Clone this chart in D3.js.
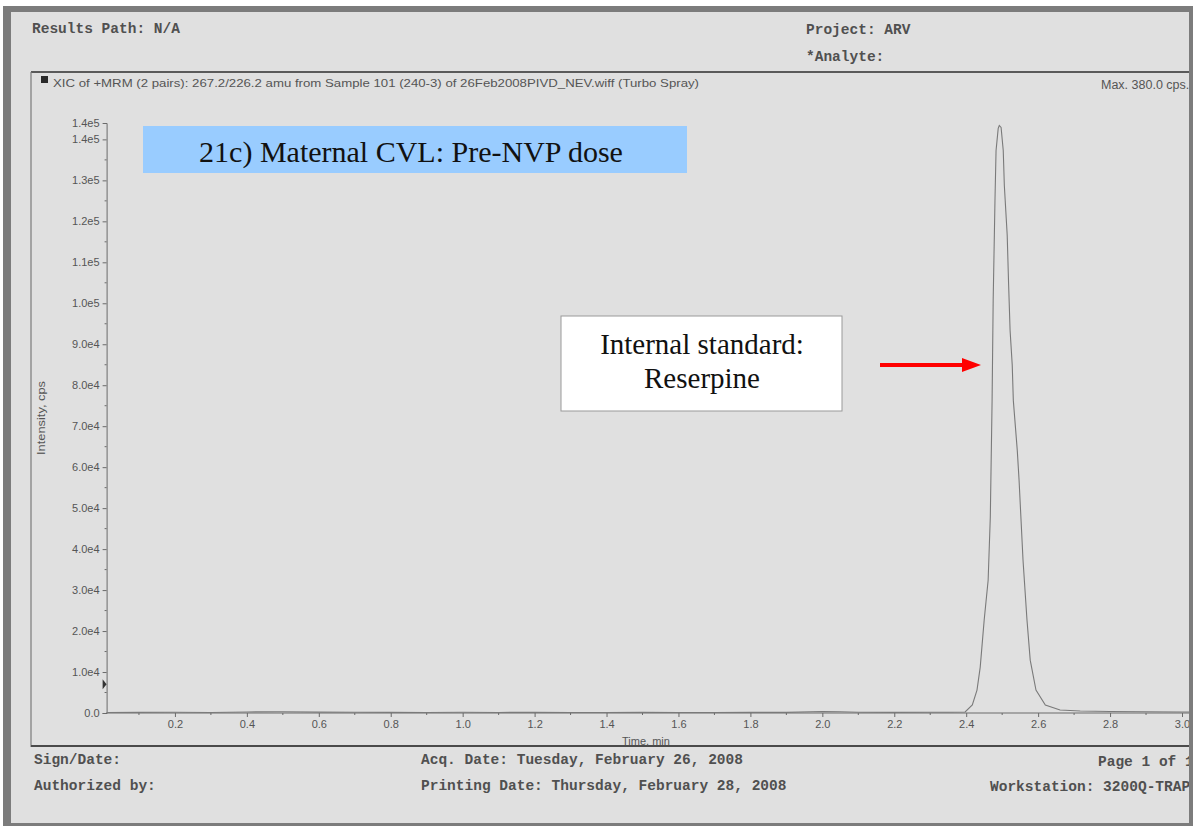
<!DOCTYPE html>
<html>
<head>
<meta charset="utf-8">
<script src="https://cdn.jsdelivr.net/npm/d3@7"></script>
<style>
  html, body { margin: 0; padding: 0; background: #ffffff; }
  svg { display: block; }
</style>
</head>
<body>
<svg id="chart" width="1193" height="826"></svg>
<script>
// XIC trace: retention time (min) and intensity (cps)
const timeMin = [0.01, 0.1, 0.2, 0.3, 0.4, 0.5, 0.6, 0.7, 0.8, 0.9, 1.0, 1.1, 1.2, 1.3, 1.4, 1.5, 1.6, 1.7, 1.8, 1.9,
  2.0, 2.05, 2.1, 2.2, 2.3, 2.35, 2.397, 2.417, 2.43, 2.439, 2.45, 2.461, 2.467, 2.472, 2.475, 2.48, 2.483, 2.489,
  2.492, 2.497, 2.503, 2.506, 2.514, 2.518, 2.522, 2.528, 2.531, 2.542, 2.547, 2.558, 2.569, 2.578, 2.594, 2.62,
  2.661, 2.717, 2.8, 2.9, 3.0, 3.04];
const intensityCps = [120, 150, 200, 140, 260, 310, 220, 180, 150, 130, 170, 140, 150, 130, 120, 150, 140, 130, 160, 150,
  380, 300, 180, 150, 170, 200, 244, 1950, 5600, 11200, 22700, 32400, 47800, 76300, 100700, 125100, 137300, 142700,
  143400, 142900, 137300, 128800, 116600, 104400, 93400, 84900, 76300, 64100, 56800, 37300, 22700, 12900, 5600, 1950,
  730, 490, 350, 300, 250, 240];

// Axis ticks
const yTickValues = [0, 1e4, 2e4, 3e4, 4e4, 5e4, 6e4, 7e4, 8e4, 9e4, 1e5, 1.1e5, 1.2e5, 1.3e5, 1.4e5];
const yTickLabels = ["0.0", "1.0e4", "2.0e4", "3.0e4", "4.0e4", "5.0e4", "6.0e4", "7.0e4", "8.0e4", "9.0e4",
  "1.0e5", "1.1e5", "1.2e5", "1.3e5", "1.4e5"];
const yMax = 1.44e5;
const yMaxLabel = "1.4e5";
const xTickValues = [0.2, 0.4, 0.6, 0.8, 1.0, 1.2, 1.4, 1.6, 1.8, 2.0, 2.2, 2.4, 2.6, 2.8, 3.0];
const xTickLabels = ["0.2", "0.4", "0.6", "0.8", "1.0", "1.2", "1.4", "1.6", "1.8", "2.0", "2.2", "2.4", "2.6", "2.8", "3.0"];

// Report text
const headerLeft = "Results Path: N/A";
const headerProject = "Project: ARV";
const headerAnalyte = "*Analyte:";
const traceTitle = "XIC of +MRM (2 pairs): 267.2/226.2 amu from Sample 101 (240-3) of 26Feb2008PIVD_NEV.wiff (Turbo Spray)";
const maxLabel = "Max. 380.0 cps.";
const panelTitle = "21c) Maternal CVL: Pre-NVP dose";
const annotationLines = ["Internal standard:", "Reserpine"];
const footerLeft = ["Sign/Date:", "Authorized by:"];
const footerMid = ["Acq. Date: Tuesday, February 26, 2008", "Printing Date: Thursday, February 28, 2008"];
const footerPage = "Page 1 of 1";
const footerStation = "Workstation: 3200Q-TRAP";

const svg = d3.select("#chart");
const mono = "'Liberation Mono', 'DejaVu Sans Mono', monospace";
const sans = "'Liberation Sans', Arial, sans-serif";
const serif = "'Liberation Serif', 'Times New Roman', serif";

// Page frame
svg.append("rect").attr("x", 3).attr("y", 6).attr("width", 1190).attr("height", 820).attr("fill", "#7c7c7c");
svg.append("rect").attr("x", 11).attr("y", 12).attr("width", 1178).attr("height", 811).attr("fill", "#e0e0e0");

svg.append("defs").append("clipPath").attr("id", "page")
  .append("rect").attr("x", 11).attr("y", 12).attr("width", 1178).attr("height", 811);

const page = svg.append("g").attr("clip-path", "url(#page)");

// Header
const monoText = (x, y, t) => page.append("text").attr("x", x).attr("y", y)
  .attr("font-family", mono).attr("font-size", 14.5).attr("font-weight", "bold")
  .attr("fill", "#505050").text(t);
monoText(32, 33, headerLeft);
monoText(806, 34, headerProject);
monoText(806, 61, headerAnalyte);

// Chart panel border
page.append("line").attr("x1", 31).attr("x2", 1189).attr("y1", 72).attr("y2", 72)
  .attr("stroke", "#5a5a5a").attr("stroke-width", 2);
page.append("line").attr("x1", 31).attr("x2", 31).attr("y1", 72).attr("y2", 747)
  .attr("stroke", "#7a7a7a").attr("stroke-width", 1.2);
page.append("line").attr("x1", 31).attr("x2", 1189).attr("y1", 746).attr("y2", 746)
  .attr("stroke", "#4a4a4a").attr("stroke-width", 2);

page.append("rect").attr("x", 41).attr("y", 76).attr("width", 7).attr("height", 7).attr("fill", "#2a2a2a");
page.append("text").attr("x", 53).attr("y", 87).attr("font-family", sans).attr("font-size", 10.5)
  .attr("fill", "#555").attr("textLength", 646).attr("lengthAdjust", "spacingAndGlyphs").text(traceTitle);
page.append("text").attr("x", 1101).attr("y", 89).attr("font-family", sans)
  .attr("font-size", 12.5).attr("fill", "#555").text(maxLabel);

// Scales
const x = d3.scaleLinear().domain([0, 3]).range([103, 1182]);
const y = d3.scaleLinear().domain([0, yMax]).range([713, 123]);

const axisColor = "#6a6a6a";
const labelColor = "#555";
const tickFont = 11;

// Y axis
const yAxis = d3.axisLeft(y).tickValues(yTickValues).tickSize(4).tickPadding(3)
  .tickFormat((d, i) => yTickLabels[i]);
const gy = page.append("g").attr("transform", `translate(${x(0.01)},0)`).call(yAxis);
gy.select(".domain").attr("stroke", axisColor);
gy.selectAll(".tick line").attr("stroke", axisColor);
gy.selectAll(".tick text").attr("font-family", sans).attr("font-size", tickFont).attr("fill", labelColor);
// minor y ticks
gy.selectAll(".minor").data(d3.range(5000, yMax, 10000)).join("line").attr("class", "minor")
  .attr("x1", -2).attr("x2", 0).attr("y1", d => y(d)).attr("y2", d => y(d)).attr("stroke", axisColor);
// top label at axis maximum
gy.append("text").attr("x", -7).attr("y", y(yMax)).attr("dy", "0.32em").attr("text-anchor", "end")
  .attr("font-family", sans).attr("font-size", tickFont).attr("fill", labelColor).text(yMaxLabel);
// marker on the y axis
gy.append("path").attr("d", "M-4,-5 L0,0 L-4,5 Z").attr("transform", `translate(0,${y(7000)})`).attr("fill", "#333");

page.append("text").attr("transform", `translate(45,418) rotate(-90)`).attr("text-anchor", "middle")
  .attr("font-family", sans).attr("font-size", 10.5).attr("fill", labelColor)
  .attr("textLength", 74).attr("lengthAdjust", "spacingAndGlyphs").text("Intensity, cps");

// X axis
const xAxis = d3.axisBottom(x).tickValues(xTickValues).tickSize(4).tickPadding(3)
  .tickFormat((d, i) => xTickLabels[i]);
const gx = page.append("g").attr("transform", `translate(0,${y(0)})`).call(xAxis);
gx.select(".domain").attr("d", `M${x(0.01)},0H1189`).attr("stroke", axisColor);
gx.selectAll(".tick line").attr("stroke", axisColor);
gx.selectAll(".tick text").attr("font-family", sans).attr("font-size", tickFont).attr("fill", labelColor);
gx.selectAll(".minor").data(d3.range(0.1, 3.05, 0.2)).join("line").attr("class", "minor")
  .attr("x1", d => x(d)).attr("x2", d => x(d)).attr("y1", 0).attr("y2", 2).attr("stroke", axisColor);

page.append("text").attr("x", 646).attr("y", 745).attr("text-anchor", "middle")
  .attr("font-family", sans).attr("font-size", 11).attr("fill", labelColor).text("Time, min");

// Trace
const trace = timeMin.map((t, i) => [t, intensityCps[i]]);
page.append("path").datum(trace)
  .attr("d", d3.line().x(d => x(d[0])).y(d => y(d[1])))
  .attr("fill", "none").attr("stroke", "#7a7a7a").attr("stroke-width", 1.1);

// Title box
page.append("rect").attr("x", 143).attr("y", 126).attr("width", 544).attr("height", 47).attr("fill", "#99ccff");
page.append("text").attr("x", 411).attr("y", 162).attr("text-anchor", "middle")
  .attr("font-family", serif).attr("font-size", 30).attr("fill", "#111").text(panelTitle);

// Annotation box
page.append("rect").attr("x", 561).attr("y", 316).attr("width", 281).attr("height", 95)
  .attr("fill", "#ffffff").attr("stroke", "#999").attr("stroke-width", 1);
page.selectAll(".anno").data(annotationLines).join("text").attr("class", "anno")
  .attr("x", 702).attr("y", (d, i) => 354 + i * 34).attr("text-anchor", "middle")
  .attr("font-family", serif).attr("font-size", 29).attr("fill", "#111").text(d => d);

// Arrow pointing at the peak
page.append("line").attr("x1", 880).attr("x2", 964).attr("y1", 365).attr("y2", 365)
  .attr("stroke", "#ff0000").attr("stroke-width", 4);
page.append("path").attr("d", "M962,358 L981,365 L962,372 Z").attr("fill", "#ff0000");

// Footer
monoText(34, 764, footerLeft[0]);
monoText(34, 790, footerLeft[1]);
monoText(421, 764, footerMid[0]);
monoText(421, 790, footerMid[1]);
monoText(1098, 766, footerPage);
monoText(990, 791, footerStation);
</script>
</body>
</html>
